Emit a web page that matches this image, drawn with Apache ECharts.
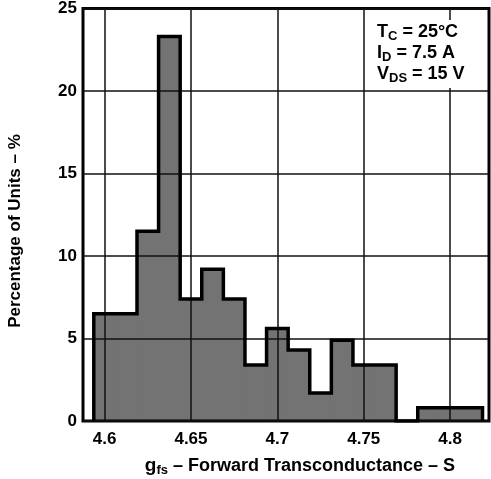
<!DOCTYPE html>
<html>
<head>
<meta charset="utf-8">
<script src="https://cdn.jsdelivr.net/npm/echarts@6/dist/echarts.min.js"></script>
<style>
  html, body { margin: 0; padding: 0; background: #fff; }
  #chart { width: 491px; height: 479px; }
</style>
</head>
<body>
<div id="chart"></div>
<script>
// histogram bins (center of each bin, S) and percentage of units
var binCenters = [4.6, 4.6125, 4.625, 4.6375, 4.65, 4.6625, 4.675, 4.6875, 4.7,
                  4.7125, 4.725, 4.7375, 4.75, 4.7625, 4.775, 4.7875, 4.8, 4.8125];
var percent = [6.5, 6.5, 11.5, 23.3, 7.4, 9.2, 7.4, 3.4, 5.6,
               4.3, 1.7, 4.9, 3.4, 3.4, 0, 0.8, 0.8, 0.8];
var binWidth = 0.0125;
var xTicks = [4.6, 4.65, 4.7, 4.75, 4.8];
var conditions = [['T', 'C', ' = 25°C'], ['I', 'D', ' = 7.5 A'], ['V', 'DS', ' = 15 V']];

var font = 'Liberation Sans, Arial, Helvetica, sans-serif';

var barData = [];
for (var i = 0; i < binCenters.length; i++) {
    barData.push([binCenters[i], percent[i]]);
}

// step outline round the whole histogram
var outline = [[binCenters[0] - binWidth / 2, 0]];
for (var i = 0; i < binCenters.length; i++) {
    outline.push([binCenters[i] - binWidth / 2, percent[i]]);
    outline.push([binCenters[i] + binWidth / 2, percent[i]]);
}
outline.push([binCenters[binCenters.length - 1] + binWidth / 2, 0]);

var chart = echarts.init(document.getElementById('chart'));

var condText = conditions.map(function (c) {
    return '{m|' + c[0] + '}{s|' + c[1] + '}{m|' + c[2] + '}';
}).join('\n');

var option = {
    animation: false,
    grid: {
        left: 83, right: 2, top: 8, bottom: 58,
        show: true, borderColor: '#000', borderWidth: 3
    },
    xAxis: {
        type: 'value',
        min: 4.5875,
        max: 4.8225,
        axisLine: { show: false },
        axisTick: { show: false, customValues: xTicks },
        axisLabel: {
            customValues: xTicks,
            color: '#000', fontFamily: font, fontWeight: 'bold', fontSize: 17, margin: 10
        },
        splitLine: { show: true, lineStyle: { color: '#111', width: 1.5 } }
    },
    yAxis: {
        type: 'value',
        min: 0, max: 25, interval: 5,
        axisLine: { show: false },
        axisTick: { show: false },
        axisLabel: {
            color: '#000', fontFamily: font, fontWeight: 'bold', fontSize: 17, margin: 6,
            verticalAlign: 'middle'
        },
        splitLine: { show: true, lineStyle: { color: '#111', width: 1.5 } }
    },
    graphic: [
        {
            type: 'text',
            x: 15, y: 231,
            rotation: Math.PI / 2,
            style: {
                text: 'Percentage of Units – %',
                font: 'bold 17px ' + font,
                fill: '#000',
                align: 'center',
                verticalAlign: 'middle'
            }
        },
        {
            type: 'text',
            x: 300, y: 466,
            style: {
                text: '{g|g}{s|fs}{m| – Forward Transconductance – S}',
                align: 'center',
                verticalAlign: 'middle',
                rich: {
                    g: { fontFamily: font, fontWeight: 'bold', fontSize: 19, fill: '#000' },
                    s: { fontFamily: font, fontWeight: 'bold', fontSize: 13, fill: '#000', padding: [8, 0, 0, 0] },
                    m: { fontFamily: font, fontWeight: 'bold', fontSize: 18, fill: '#000' }
                }
            }
        },
        {
            type: 'rect',
            z: 10,
            shape: { x: 366, y: 20, width: 121, height: 68 },
            style: { fill: '#fff' }
        },
        {
            type: 'text',
            z: 11,
            x: 377, y: 22,
            style: {
                text: condText,
                rich: {
                    m: { fontFamily: font, fontWeight: 'bold', fontSize: 18, fill: '#000', lineHeight: 21 },
                    s: { fontFamily: font, fontWeight: 'bold', fontSize: 13, fill: '#000', padding: [8, 0, 0, 0], lineHeight: 21 }
                }
            }
        }
    ],
    series: [
        {
            type: 'custom',
            data: barData,
            z: -1,
            renderItem: function (params, api) {
                var c = api.value(0);
                var h = api.value(1);
                if (h <= 0) return;
                var p0 = api.coord([c - binWidth / 2, h]);
                var p1 = api.coord([c + binWidth / 2, 0]);
                return {
                    type: 'rect',
                    shape: { x: p0[0], y: p0[1], width: p1[0] - p0[0], height: p1[1] - p0[1] },
                    style: { fill: '#737373', stroke: '#737373', lineWidth: 1 }
                };
            }
        },
        {
            type: 'line',
            data: outline,
            z: 6,
            symbol: 'none',
            lineStyle: { color: '#000', width: 3.5, join: 'miter' }
        }
    ]
};

chart.setOption(option);
</script>
</body>
</html>
